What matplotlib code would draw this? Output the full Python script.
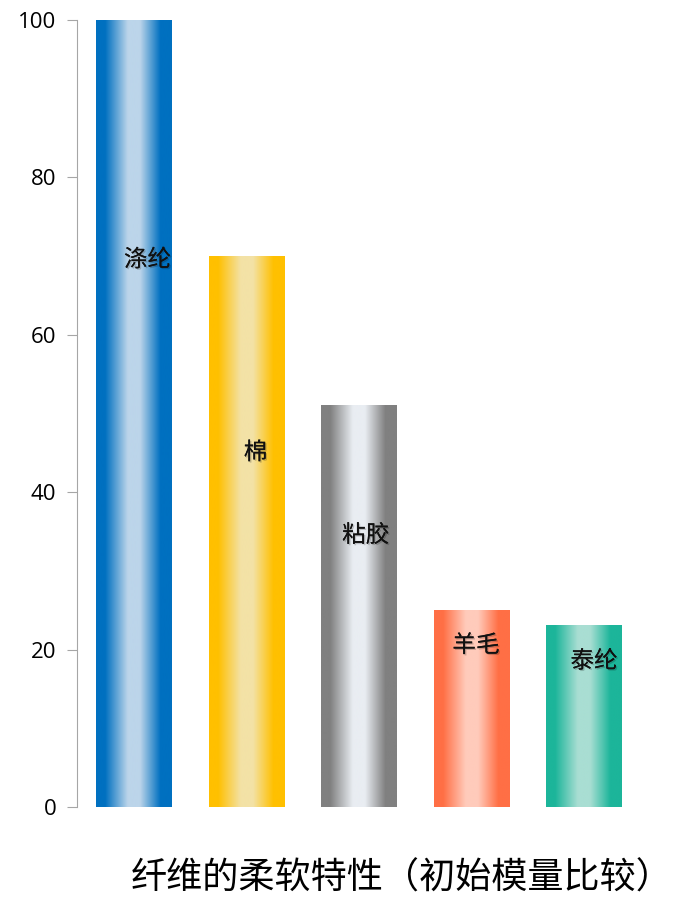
import numpy as np
import matplotlib
matplotlib.use('Agg')
import matplotlib.pyplot as plt
from matplotlib.colors import LinearSegmentedColormap
import matplotlib.patheffects as pe

plt.rcParams['font.family'] = ['Noto Sans CJK SC', 'DejaVu Sans']

# 数据
fibers = ['涤纶', '棉', '粘胶', '羊毛', '泰纶']
modulus = [100, 70, 51, 25, 23]
dark_colors = ['#0070C0', '#FFC000', '#808080', '#FF6F45', '#1CB59A']
light_colors = ['#BCD5EA', '#F3E2A6', '#E9EDF2', '#FFCBBB', '#A9DED3']
title = '纤维的柔软特性（初始模量比较）'

# 标签位置（数据坐标）
label_x = [0.12, 0.08, 0.06, 0.04, 0.09]
label_y = [69.5, 45, 34.5, 20.5, 18.5]

fig = plt.figure(figsize=(6.79, 9.02), dpi=100)
ax = fig.add_axes([0.1134, 0.1053, 0.8586, 0.8725])

width = 0.675
grad = np.linspace(0, 1, 256).reshape(1, -1)
for i, (v, dc, lc) in enumerate(zip(modulus, dark_colors, light_colors)):
    # 柱子渐变：两边深色，中间浅色
    cmap = LinearSegmentedColormap.from_list(
        'g%d' % i, [(0, dc), (0.12, dc), (0.42, lc), (0.58, lc), (0.85, dc), (1, dc)])
    ax.imshow(grad, cmap=cmap, aspect='auto', interpolation='bilinear',
              extent=[i - width / 2, i + width / 2, 0, v], zorder=2)
    t = ax.text(i + label_x[i], label_y[i], fibers[i], ha='center', va='center',
                fontsize=17, color='#111111', zorder=3)
    t.set_path_effects([pe.withSimplePatchShadow(offset=(1, -1), alpha=0.2), pe.Normal()])

ax.set_xlim(-0.507, 4.676)
ax.set_ylim(0, 100)
ax.set_yticks([0, 20, 40, 60, 80, 100])
ax.set_xticks([])
for s in ['top', 'right', 'bottom']:
    ax.spines[s].set_visible(False)
ax.spines['left'].set_color('#A6A6A6')
ax.tick_params(axis='y', length=7, color='#A6A6A6', labelsize=16, pad=8)
for lab in ax.get_yticklabels():
    lab.set_family('Open Sans')

fig.text(0.592, 0.026, title, ha='center', va='center', fontsize=26, fontweight='light')

fig.savefig('out.png', dpi=100)
